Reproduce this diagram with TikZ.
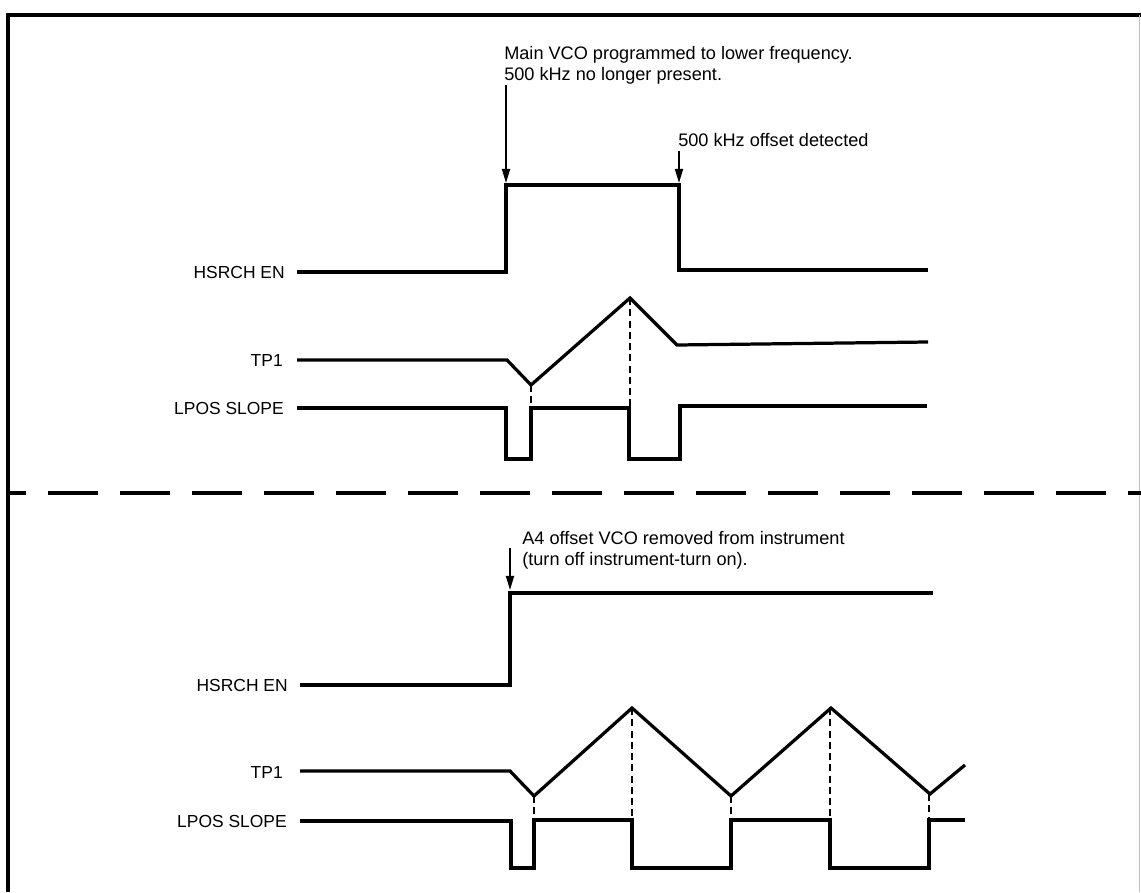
\documentclass[tikz,border=0pt]{standalone}
\usepackage{fontspec}
\setmainfont{Liberation Sans}
\usetikzlibrary{arrows.meta}
\newcommand{\sigfont}{\fontsize{12.4}{14.5}\selectfont}
\newcommand{\notefont}{\fontsize{12.9}{14.8}\selectfont}

\begin{document}
\begin{tikzpicture}[x=0.025cm, y=-0.025cm,
  wave/.style={line width=2.3pt},
  guide/.style={line width=0.8pt, dash pattern=on 5pt off 3pt},
  cue/.style={-{Triangle[length=10pt, width=5.7pt]}, line width=1.3pt},
  siglabel/.style={anchor=east, inner sep=0pt, font=\sigfont},
  note/.style={anchor=north west, inner sep=0pt, align=left, font=\notefont}]
  \useasboundingbox (0,0) rectangle (1141,892);

  % frame and divider
  \draw[line width=2.6pt] (8,892) -- (8,15) -- (1141,15);
  \draw[gray!50, line width=0.6pt] (1139,15) -- (1139,892);
  \draw[line width=2.8pt, dash pattern=on 1.25cm off 0.55cm, dash phase=0.8cm] (8,493) -- (1141,493);

  % upper panel: signal names
  \node[siglabel] (hsA) at (285,272) {HSRCH EN};
  \node[siglabel] (tpA) at (283,360) {TP1};
  \node[siglabel] (lpA) at (284,408) {LPOS SLOPE};

  % upper panel: waveforms
  \draw[wave] (297,272) -- (506,272) -- (506,185) -- (679,185) -- (679,270) -- (928,270);
  \draw[wave] (297,360) -- (507,360) -- (531,385) -- (630,298) -- (677,345) -- (928,342);
  \draw[wave] (297,408) -- (506,408) -- (506,459) -- (531,459) -- (531,408) -- (629,408)
    -- (629,459) -- (680,459) -- (680,406) -- (927,406);
  \foreach \x/\y in {531/385, 630/298}
    \draw[guide] (\x,\y) -- (\x,408);

  % upper panel: events
  \node[note] (evA) at (504,46) {Main VCO programmed to lower frequency.\\500 kHz no longer present.};
  \coordinate (cueA) at (506,85);
  \coordinate (riseA) at (506,183);
  \draw[cue] (cueA) -- (riseA);
  \node[note] (evB) at (678,133) {500 kHz offset detected};
  \coordinate (cueB) at (679,151);
  \coordinate (fallB) at (679,183);
  \draw[cue] (cueB) -- (fallB);

  % lower panel: signal names
  \node[siglabel] (hsB) at (288,685) {HSRCH EN};
  \node[siglabel] (tpB) at (283,772) {TP1};
  \node[siglabel] (lpB) at (287,821) {LPOS SLOPE};

  % lower panel: waveforms
  \draw[wave] (300,685) -- (510,685) -- (510,593) -- (933,593);
  \draw[wave] (300,771) -- (510,771) -- (534,796) -- (632,708) -- (731,796) -- (831,708)
    -- (930,794) -- (965,765);
  \draw[wave] (300,821) -- (511,821) -- (511,868) -- (534,868) -- (534,820) -- (632,820)
    -- (632,868) -- (731,868) -- (731,820) -- (830,820) -- (830,868) -- (929,868)
    -- (929,820) -- (965,820);
  \foreach \x/\y in {534/796, 632/708, 731/796, 830/708, 929/794}
    \draw[guide] (\x,\y) -- (\x,820);

  % lower panel: event
  \node[note] (evC) at (522,531) {A4 offset VCO removed from instrument\\(turn off instrument-turn on).};
  \coordinate (cueC) at (510,548);
  \coordinate (riseC) at (510,590);
  \draw[cue] (cueC) -- (riseC);
\end{tikzpicture}
\end{document}
